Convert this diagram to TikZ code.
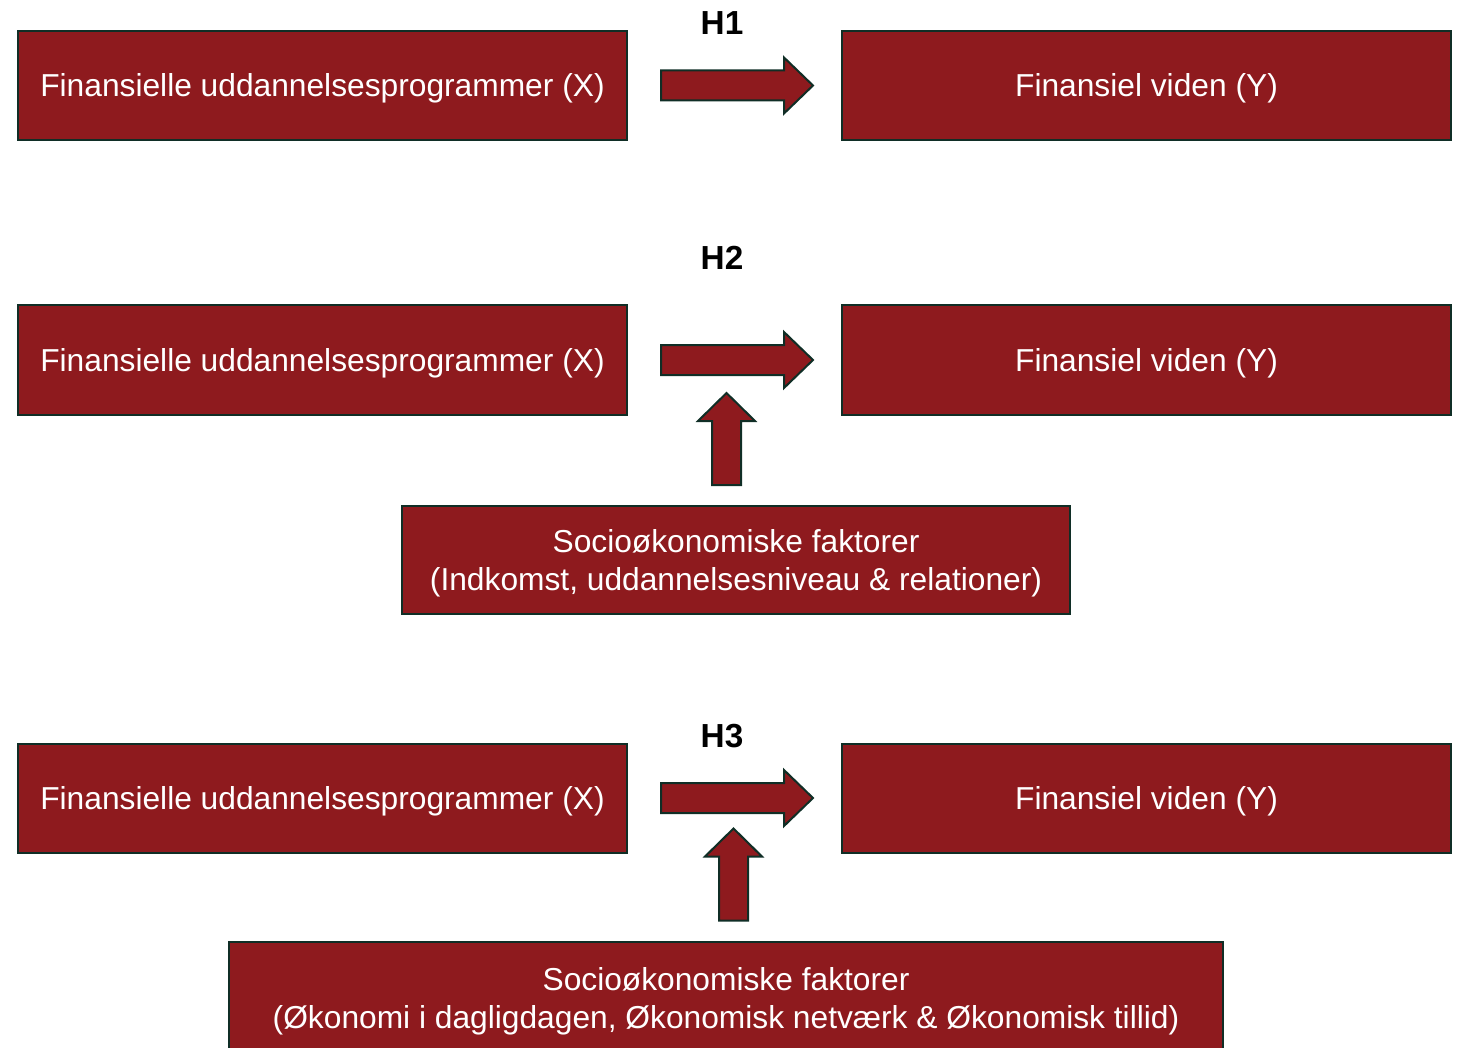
\documentclass[tikz,border=0pt]{standalone}
\usepackage{fontspec}
\setmainfont{Liberation Sans}
\usetikzlibrary{calc}

\definecolor{boxred}{RGB}{142,26,30}
\definecolor{boxline}{RGB}{16,46,38}

\tikzset{
    varbox/.style={draw=boxline, line width=1.5pt, fill=boxred, text=white,
        rectangle, inner sep=0pt, align=center, text depth=0pt,
        font=\fontsize{23.8}{28.5}\selectfont},
    hlabel/.style={font=\fontsize{25}{30}\selectfont\bfseries, inner sep=0pt},
    arrowbody/.style={draw=boxline, line width=1.5pt, fill=boxred, line join=miter},
    rarrow/.pic={\draw[arrowbody] (-76,-15) -- (47,-15) -- (47,-28) -- (76,0)
        -- (47,28) -- (47,15) -- (-76,15) -- cycle;},
    uarrow/.pic={\draw[arrowbody] (-14.5,46) -- (-14.5,-18) -- (-28.5,-18) -- (0,-46)
        -- (28.5,-18) -- (14.5,-18) -- (14.5,46) -- cycle;}
}

\begin{document}
\begin{tikzpicture}[x=0.75pt, y=-0.75pt]
    \useasboundingbox (0,0) rectangle (1458,1048);

    % H1
    \node[varbox, minimum width=609*0.75pt, minimum height=109*0.75pt] (x1) at (322.5, 85.5) {Finansielle uddannelsesprogrammer (X)};
    \node[varbox, minimum width=609*0.75pt, minimum height=109*0.75pt] (y1) at (1146.5, 85.5) {Finansiel viden (Y)};
    \node[hlabel] (h1) at (722, 23) {H1};
    \pic at ($(x1.east)!0.5!(y1.west)+(2.5,0)$) {rarrow};

    % H2
    \node[varbox, minimum width=609*0.75pt, minimum height=109*0.75pt] (x2) at (322.5, 360) {Finansielle uddannelsesprogrammer (X)};
    \node[varbox, minimum width=609*0.75pt, minimum height=109*0.75pt] (y2) at (1146.5, 360) {Finansiel viden (Y)};
    \node[hlabel] (h2) at (722, 258) {H2};
    \pic at ($(x2.east)!0.5!(y2.west)+(2.5,0)$) {rarrow};
    \node[varbox, minimum width=668*0.75pt, minimum height=108*0.75pt] (s2) at (736, 560) {Socioøkonomiske faktorer\\(Indkomst, uddannelsesniveau \& relationer)};
    \pic at (726.5, 439) {uarrow};

    % H3
    \node[varbox, minimum width=609*0.75pt, minimum height=109*0.75pt] (x3) at (322.5, 798) {Finansielle uddannelsesprogrammer (X)};
    \node[varbox, minimum width=609*0.75pt, minimum height=109*0.75pt] (y3) at (1146.5, 798) {Finansiel viden (Y)};
    \node[hlabel] (h3) at (722, 736) {H3};
    \pic at ($(x3.east)!0.5!(y3.west)+(2.5,0)$) {rarrow};
    \node[varbox, minimum width=994*0.75pt, minimum height=112*0.75pt] (s3) at (726, 998) {Socioøkonomiske faktorer\\(Økonomi i dagligdagen, Økonomisk netværk \& Økonomisk tillid)};
    \pic at (733.5, 874.5) {uarrow};

\end{tikzpicture}
\end{document}
